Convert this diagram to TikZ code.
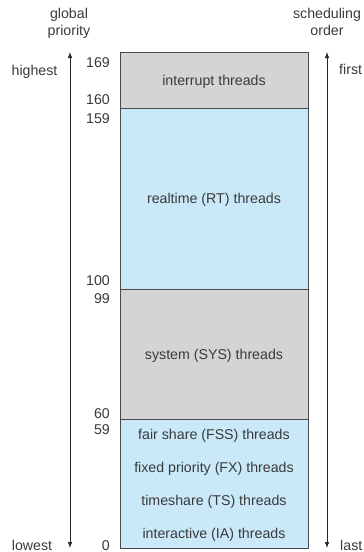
\documentclass[tikz,border=0pt]{standalone}
\usepackage{fontspec}
\setmainfont{Liberation Sans}
\usetikzlibrary{arrows.meta}
\definecolor{bandgray}{HTML}{D4D4D6}
\definecolor{bandblue}{HTML}{C9E9F9}
\definecolor{ink}{HTML}{3A3A3A}
\definecolor{rule}{HTML}{4A4A4A}
\tikzset{
  lbl/.style={text=ink, inner sep=0pt, anchor=base, font=\fontsize{14.2}{17}\selectfont},
  num/.style={lbl, anchor=base east},
  band/.style={draw=rule, line width=0.9pt},
  axis/.style={draw=black!85, line width=0.9pt, -{Latex[length=6pt,width=4.6pt]}},
}
\begin{document}
\begin{tikzpicture}[x=1pt, y=-1pt]
\useasboundingbox (0,0) rectangle (364,552);

% priority bands
\path[band, fill=bandgray] (120,52) rectangle (308,108);
\path[band, fill=bandblue] (120,108) rectangle (308,289);
\path[band, fill=bandgray] (120,289) rectangle (308,419);
\path[band, fill=bandblue] (120,419) rectangle (308,548);

% band labels
\node[lbl] (intr) at (214,85) {interrupt threads};
\node[lbl] (rt)   at (214,203) {realtime (RT) threads};
\node[lbl] (sys)  at (214,359) {system (SYS) threads};
\node[lbl] (fss)  at (214,439) {fair share (FSS) threads};
\node[lbl] (fx)   at (214,472) {fixed priority (FX) threads};
\node[lbl] (ts)   at (214,505) {timeshare (TS) threads};
\node[lbl] (ia)   at (214,538) {interactive (IA) threads};

% priority numbers
\node[num] (n169) at (110,67)  {169};
\node[num] (n160) at (110,104) {160};
\node[num] (n159) at (110,123) {159};
\node[num] (n100) at (110,285) {100};
\node[num] (n99)  at (110,303) {99};
\node[num] (n60)  at (110,418) {60};
\node[num] (n59)  at (110,434) {59};
\node[num] (n0)   at (110,550) {0};

% axis headings
\node[lbl] (gp1) at (69,18) {global};
\node[lbl] (gp2) at (69,35) {priority};
\node[lbl] (so1) at (327,18) {scheduling};
\node[lbl] (so2) at (327,35) {order};

% axis end labels
\node[lbl] (hi)   at (34.5,75) {highest};
\node[lbl] (lo)   at (32,550) {lowest};
\node[lbl, anchor=base west] (first) at (339,74) {first};
\node[lbl, anchor=base west] (last)  at (340,550) {last};

% axes
\coordinate (pTop) at (70,52);
\coordinate (pBot) at (70,548);
\coordinate (pMid) at (70,300);
\coordinate (sTop) at (327,52);
\coordinate (sBot) at (327,548);
\coordinate (sMid) at (327,300);
\draw[axis] (pMid) -- (pTop);
\draw[axis] (pMid) -- (pBot);
\draw[axis] (sMid) -- (sTop);
\draw[axis] (sMid) -- (sBot);
\end{tikzpicture}
\end{document}
